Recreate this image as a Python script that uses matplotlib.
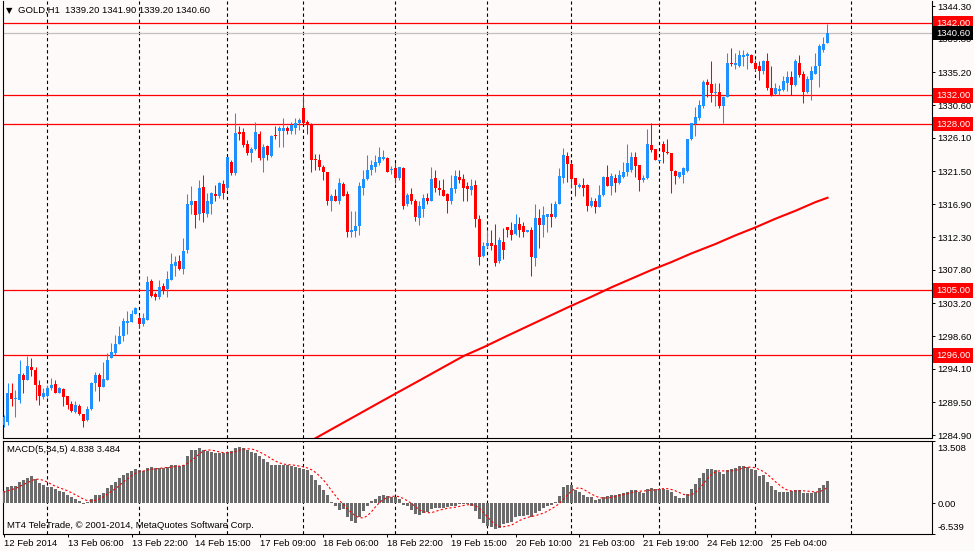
import matplotlib
matplotlib.use("Agg")
import matplotlib.pyplot as plt
import matplotlib.transforms as mtransforms
import numpy as np

plt.rcParams['font.family'] = ['Liberation Sans', 'DejaVu Sans']

# ---- GOLD H1 candles, 12 Feb 2014 .. 25 Feb 2014 ----
opens = [
    1286.3, 1286.8, 1290.7, 1289.9, 1289.8, 1293.3, 1292.5, 1294.3, 1293.9, 1291.9,
    1290.2, 1290.3, 1291.4, 1292.0, 1290.8, 1291.3, 1290.3, 1289.3, 1288.2, 1289.0,
    1287.9, 1287.0, 1288.6, 1292.1, 1293.3, 1291.6, 1292.5, 1295.6, 1296.3, 1297.6,
    1298.6, 1300.5, 1300.6, 1301.7, 1301.2, 1300.3, 1300.9, 1306.3, 1304.5, 1304.0,
    1305.6, 1305.2, 1306.4, 1308.4, 1309.0, 1307.9, 1310.5, 1316.8, 1317.3, 1315.6,
    1319.3, 1315.6, 1317.0, 1318.3, 1318.0, 1319.7, 1319.1, 1322.7, 1321.2, 1326.9,
    1326.9, 1325.2, 1324.0, 1324.6, 1326.7, 1323.3, 1325.0, 1323.6, 1326.5, 1327.0,
    1327.0, 1327.5, 1327.1, 1327.5, 1328.1, 1330.2, 1328.3, 1328.0, 1323.2, 1323.0,
    1322.1, 1321.3, 1317.3, 1318.0, 1317.3, 1319.7, 1318.3, 1313.0, 1313.2, 1313.9,
    1319.2, 1320.4, 1321.6, 1322.1, 1322.6, 1323.2, 1323.3, 1321.7, 1321.9, 1320.5,
    1321.9, 1316.9, 1318.3, 1317.4, 1315.0, 1316.3, 1317.7, 1317.3, 1320.5, 1319.1,
    1318.9, 1318.3, 1317.3, 1319.0, 1320.7, 1320.4, 1319.4, 1318.9, 1319.6, 1314.8,
    1309.7, 1311.1, 1311.5, 1311.3, 1309.0, 1311.7, 1313.7, 1313.3, 1312.8, 1314.2,
    1313.9, 1313.1, 1313.3, 1309.4, 1315.0, 1314.0, 1315.2, 1315.6, 1315.2, 1316.9,
    1320.6, 1323.6, 1322.5, 1320.5, 1319.3, 1319.6, 1319.6, 1316.6, 1317.4, 1316.5,
    1318.2, 1320.7, 1319.4, 1320.6, 1319.8, 1320.7, 1321.3, 1321.6, 1323.4, 1322.3,
    1320.2, 1320.5, 1325.1, 1324.5, 1322.9, 1325.3, 1324.1, 1324.0, 1321.5, 1320.7,
    1320.9, 1321.5, 1325.9, 1328.0, 1328.8, 1330.5, 1333.9, 1333.6, 1332.3, 1332.5,
    1330.5, 1331.8, 1336.5, 1336.2, 1336.1, 1337.3, 1337.4, 1337.6, 1336.5, 1336.0,
    1335.3, 1336.7, 1333.0, 1332.2, 1332.6, 1332.7, 1333.7, 1334.5, 1333.4, 1336.5,
    1334.9, 1332.4, 1334.1, 1335.0, 1336.0, 1338.3, 1339.2]
highs = [
    1287.7, 1292.1, 1292.1, 1291.2, 1295.3, 1293.6, 1295.9, 1295.6, 1294.4, 1292.6,
    1291.4, 1291.9, 1292.8, 1292.6, 1291.6, 1291.4, 1290.3, 1289.6, 1289.6, 1289.3,
    1287.9, 1288.9, 1292.3, 1293.7, 1293.6, 1295.1, 1296.3, 1297.7, 1298.8, 1300.0,
    1301.1, 1302.1, 1302.3, 1302.7, 1301.6, 1301.8, 1307.0, 1306.5, 1304.8, 1306.4,
    1306.0, 1307.6, 1310.2, 1309.7, 1309.9, 1312.2, 1318.3, 1319.4, 1317.3, 1320.3,
    1321.0, 1318.4, 1318.6, 1319.6, 1320.0, 1320.3, 1323.5, 1323.0, 1329.5, 1327.7,
    1327.4, 1325.8, 1324.9, 1328.3, 1327.0, 1325.2, 1325.1, 1326.5, 1327.7, 1327.7,
    1328.8, 1327.7, 1328.3, 1328.8, 1328.8, 1331.9, 1328.6, 1328.1, 1323.9, 1323.9,
    1322.3, 1321.4, 1318.3, 1319.0, 1320.6, 1320.0, 1318.8, 1316.0, 1315.9, 1320.0,
    1321.7, 1323.7, 1323.0, 1323.7, 1324.9, 1324.4, 1323.5, 1322.2, 1322.6, 1322.1,
    1322.1, 1318.4, 1319.1, 1317.6, 1317.3, 1318.3, 1318.5, 1322.1, 1321.6, 1320.3,
    1320.4, 1318.4, 1321.0, 1321.7, 1321.6, 1321.1, 1320.0, 1320.4, 1320.3, 1315.4,
    1311.7, 1313.3, 1313.3, 1314.2, 1312.4, 1313.6, 1313.8, 1314.5, 1315.6, 1315.2,
    1314.5, 1313.4, 1313.8, 1316.9, 1316.2, 1316.6, 1315.6, 1317.1, 1317.3, 1321.9,
    1324.7, 1324.2, 1322.8, 1320.6, 1319.8, 1320.5, 1319.7, 1317.9, 1317.7, 1319.6,
    1320.8, 1322.3, 1321.2, 1321.1, 1321.6, 1322.8, 1325.3, 1324.2, 1324.2, 1322.3,
    1320.9, 1327.3, 1328.1, 1324.6, 1323.1, 1325.6, 1325.9, 1324.0, 1321.6, 1321.4,
    1322.1, 1326.0, 1328.2, 1330.4, 1331.3, 1334.1, 1334.3, 1336.8, 1333.7, 1333.7,
    1331.9, 1337.8, 1338.6, 1337.9, 1338.3, 1338.2, 1338.0, 1337.7, 1336.9, 1336.8,
    1336.9, 1337.8, 1336.0, 1333.7, 1333.4, 1334.6, 1335.3, 1335.3, 1337.0, 1337.6,
    1335.3, 1334.6, 1336.0, 1337.8, 1339.1, 1340.1, 1341.9]
lows = [
    1286.1, 1286.3, 1288.9, 1287.4, 1289.4, 1290.7, 1292.5, 1293.1, 1289.8, 1289.1,
    1290.0, 1290.2, 1291.2, 1290.7, 1290.7, 1288.9, 1288.6, 1288.2, 1288.0, 1287.7,
    1286.0, 1286.9, 1288.4, 1291.1, 1289.7, 1291.6, 1292.5, 1295.6, 1296.0, 1297.6,
    1297.9, 1299.0, 1300.6, 1301.7, 1299.7, 1300.0, 1300.9, 1304.0, 1303.6, 1303.8,
    1304.5, 1304.1, 1306.4, 1306.9, 1307.8, 1307.3, 1310.1, 1315.6, 1313.6, 1314.7,
    1314.5, 1315.1, 1315.6, 1317.3, 1317.7, 1317.6, 1318.9, 1321.0, 1321.0, 1325.8,
    1324.9, 1323.7, 1322.8, 1324.4, 1323.0, 1321.4, 1323.0, 1323.5, 1326.0, 1324.9,
    1324.9, 1326.7, 1326.7, 1326.7, 1327.2, 1328.0, 1326.7, 1321.4, 1321.6, 1321.6,
    1320.3, 1316.8, 1315.9, 1317.4, 1316.9, 1318.0, 1312.3, 1312.4, 1312.4, 1312.6,
    1318.2, 1320.3, 1321.0, 1321.4, 1322.3, 1323.1, 1321.3, 1321.1, 1319.8, 1320.3,
    1316.3, 1316.6, 1316.9, 1314.6, 1314.0, 1315.2, 1317.0, 1317.3, 1318.6, 1318.2,
    1318.0, 1315.7, 1317.0, 1318.4, 1319.9, 1317.3, 1317.3, 1318.2, 1313.7, 1308.5,
    1309.6, 1310.8, 1310.6, 1308.3, 1308.7, 1309.3, 1312.3, 1312.0, 1312.6, 1312.3,
    1312.4, 1313.0, 1307.0, 1308.4, 1310.9, 1312.3, 1313.0, 1313.7, 1315.0, 1316.9,
    1319.9, 1320.0, 1319.2, 1318.0, 1319.2, 1318.0, 1315.9, 1316.5, 1315.7, 1316.5,
    1318.0, 1319.4, 1318.2, 1318.6, 1319.7, 1320.6, 1320.8, 1321.4, 1320.7, 1318.8,
    1320.0, 1320.4, 1324.2, 1323.0, 1322.9, 1322.6, 1323.9, 1318.4, 1319.7, 1320.5,
    1319.8, 1321.4, 1325.8, 1326.4, 1328.6, 1330.3, 1331.8, 1331.0, 1330.5, 1330.3,
    1328.1, 1331.7, 1336.1, 1335.6, 1335.9, 1336.0, 1335.7, 1336.4, 1335.4, 1334.1,
    1335.0, 1332.7, 1331.9, 1332.0, 1332.0, 1332.6, 1332.6, 1332.0, 1333.3, 1334.5,
    1330.9, 1332.3, 1331.4, 1334.9, 1333.2, 1338.0, 1339.2]
closes = [
    1287.4, 1290.7, 1289.9, 1290.0, 1293.4, 1292.5, 1294.5, 1293.9, 1291.9, 1290.3,
    1290.7, 1291.4, 1291.9, 1290.7, 1291.4, 1290.2, 1289.1, 1288.3, 1289.1, 1287.8,
    1286.9, 1288.6, 1292.2, 1293.3, 1291.6, 1292.7, 1295.4, 1296.4, 1297.5, 1298.7,
    1300.7, 1300.8, 1301.7, 1302.5, 1300.3, 1301.2, 1306.1, 1304.2, 1304.0, 1305.4,
    1304.9, 1306.5, 1308.6, 1308.9, 1307.9, 1310.4, 1317.0, 1317.3, 1315.4, 1319.2,
    1315.7, 1317.3, 1318.4, 1318.1, 1319.8, 1318.5, 1323.5, 1321.2, 1326.8, 1326.7,
    1325.1, 1324.0, 1324.6, 1326.9, 1323.3, 1324.9, 1323.7, 1326.4, 1326.3, 1327.4,
    1327.5, 1327.0, 1327.9, 1328.2, 1328.6, 1328.2, 1328.0, 1323.1, 1323.0, 1322.1,
    1321.3, 1317.3, 1318.0, 1317.4, 1319.9, 1318.0, 1313.0, 1313.4, 1313.9, 1319.4,
    1320.4, 1321.6, 1322.3, 1322.7, 1323.4, 1323.5, 1321.4, 1321.8, 1320.6, 1322.0,
    1316.7, 1318.2, 1317.4, 1315.1, 1316.6, 1317.7, 1317.3, 1320.4, 1319.1, 1318.9,
    1318.0, 1317.3, 1319.2, 1320.8, 1320.2, 1319.2, 1319.0, 1319.4, 1314.8, 1309.6,
    1311.1, 1311.5, 1311.1, 1308.8, 1311.9, 1310.5, 1313.3, 1312.6, 1314.2, 1313.4,
    1313.0, 1313.3, 1309.6, 1315.0, 1314.0, 1315.4, 1315.6, 1315.1, 1316.9, 1320.8,
    1323.7, 1322.5, 1320.4, 1319.6, 1319.6, 1319.2, 1316.6, 1317.4, 1316.5, 1318.2,
    1320.7, 1319.4, 1320.8, 1319.9, 1321.0, 1321.3, 1322.6, 1323.4, 1322.2, 1320.2,
    1320.5, 1325.2, 1324.4, 1323.1, 1323.0, 1324.2, 1324.0, 1321.5, 1320.8, 1321.3,
    1321.9, 1325.9, 1328.1, 1329.0, 1330.6, 1333.9, 1333.4, 1332.3, 1332.5, 1330.5,
    1331.8, 1336.5, 1336.3, 1336.5, 1337.6, 1337.6, 1337.7, 1336.5, 1335.7, 1335.3,
    1336.7, 1333.0, 1332.0, 1333.0, 1332.8, 1334.0, 1334.5, 1333.4, 1336.7, 1334.8,
    1332.5, 1334.2, 1335.3, 1336.0, 1338.8, 1339.1, 1340.6]

# red moving average (only its visible part), bar index -> price
ma_bars = [78, 83, 89, 94, 99, 104, 110, 115, 120, 126, 131, 136, 141,
           147, 152, 157, 162, 167, 172, 178, 183, 188, 193, 198, 203, 206]
ma_vals = [1284.5, 1286.05, 1287.9, 1289.45, 1290.98, 1292.5, 1294.35, 1295.88,
           1297.1, 1298.7, 1300.0, 1301.3, 1302.6, 1304.1, 1305.4, 1306.6,
           1307.8, 1308.9, 1310.1, 1311.4, 1312.6, 1313.7, 1314.9, 1316.0,
           1317.2, 1317.8]

# MACD(5,34,5) histogram and signal
macd_hist = [
    2.77, 3.50, 3.65, 3.72, 4.60, 4.96, 5.47, 5.84, 5.33, 4.38,
    3.87, 3.50, 3.50, 3.14, 2.77, 2.41, 1.82, 1.31, 0.95, 0.58,
    -0.15, 0.22, 0.95, 1.82, 1.82, 2.26, 3.28, 3.87, 4.60, 5.47,
    6.20, 6.57, 7.01, 7.37, 7.15, 6.93, 7.74, 7.81, 7.66, 7.66,
    7.74, 7.88, 8.25, 8.39, 8.10, 8.39, 10.29, 11.53, 11.53, 12.04,
    11.53, 11.31, 11.17, 10.80, 10.80, 10.80, 11.17, 11.31, 12.04, 12.26,
    11.90, 11.53, 11.17, 10.80, 10.29, 9.71, 8.98, 8.39, 8.39, 8.39,
    8.39, 8.39, 8.10, 7.88, 7.66, 7.52, 7.15, 6.20, 4.96, 3.87,
    2.99, 1.82, 0.22, -0.66, -1.39, -1.24, -3.07, -3.80, -4.31, -3.07,
    -1.61, -0.51, 0.44, 0.95, 1.53, 1.82, 1.68, 1.46, 1.31, 0.95,
    -0.36, -0.66, -1.39, -2.34, -2.55, -2.12, -1.82, -1.24, -1.09, -1.09,
    -1.09, -0.88, -0.66, -0.51, -0.15, -0.15, -0.15, -0.51, -1.61, -3.43,
    -4.31, -4.89, -5.04, -5.62, -5.26, -4.53, -4.16, -4.01, -3.07, -2.85,
    -2.70, -2.55, -3.07, -2.12, -1.61, -1.09, -0.66, -0.36, 0.36, 1.68,
    3.50, 4.01, 3.87, 2.99, 2.55, 1.82, 1.31, 1.31, 0.80, 0.95,
    1.31, 1.53, 1.82, 1.82, 2.04, 2.26, 2.41, 2.99, 2.99, 2.55,
    2.26, 3.14, 3.43, 3.14, 3.14, 3.14, 2.99, 2.55, 1.68, 1.24,
    1.24, 2.04, 3.14, 4.23, 5.47, 6.64, 7.37, 7.37, 7.15, 6.79,
    6.42, 7.30, 7.52, 7.74, 8.03, 8.03, 7.81, 7.52, 7.15, 5.91,
    6.06, 4.60, 3.72, 2.99, 2.55, 2.55, 2.55, 2.77, 2.99, 2.99,
    2.26, 2.26, 2.26, 2.55, 3.28, 4.01, 4.84]
macd_signal = [
    2.40, 2.70, 3.00, 3.20, 3.65, 4.09, 4.48, 4.92, 5.24, 5.20,
    4.98, 4.58, 4.12, 3.68, 3.36, 3.06, 2.73, 2.29, 1.85, 1.41,
    0.90, 0.58, 0.51, 0.68, 0.93, 1.41, 2.03, 2.61, 3.17, 3.90,
    4.68, 5.34, 5.97, 6.52, 6.86, 7.01, 7.24, 7.40, 7.46, 7.56,
    7.72, 7.75, 7.84, 7.98, 8.07, 8.20, 8.68, 9.34, 9.97, 10.76,
    11.38, 11.59, 11.52, 11.37, 11.12, 10.98, 10.95, 10.98, 11.22, 11.52,
    11.74, 11.81, 11.78, 11.53, 11.14, 10.70, 10.19, 9.63, 9.15, 8.77,
    8.51, 8.39, 8.33, 8.23, 8.08, 7.91, 7.66, 7.28, 6.70, 5.94,
    5.03, 3.97, 2.77, 1.65, 0.60, -0.25, -1.23, -2.03, -2.76, -3.10,
    -3.17, -2.66, -1.81, -0.76, 0.16, 0.85, 1.28, 1.49, 1.56, 1.44,
    1.01, 0.54, -0.03, -0.76, -1.46, -1.81, -2.04, -2.01, -1.76, -1.47,
    -1.27, -1.08, -0.96, -0.85, -0.66, -0.47, -0.32, -0.29, -0.51, -1.17,
    -2.00, -2.95, -3.86, -4.66, -5.02, -5.07, -4.92, -4.72, -4.21, -3.72,
    -3.36, -3.04, -2.85, -2.66, -2.41, -2.09, -1.71, -1.17, -0.67, -0.01,
    0.90, 1.84, 2.68, 3.21, 3.38, 3.05, 2.51, 2.00, 1.56, 1.24,
    1.14, 1.18, 1.28, 1.49, 1.70, 1.89, 2.07, 2.30, 2.54, 2.64,
    2.64, 2.79, 2.87, 2.90, 3.02, 3.20, 3.17, 2.99, 2.70, 2.32,
    1.94, 1.75, 1.87, 2.38, 3.22, 4.30, 5.37, 6.22, 6.80, 7.06,
    7.02, 7.01, 7.04, 7.15, 7.40, 7.72, 7.83, 7.83, 7.71, 7.28,
    6.89, 6.25, 5.49, 4.66, 3.98, 3.28, 2.87, 2.68, 2.68, 2.77,
    2.71, 2.65, 2.55, 2.46, 2.52, 2.87, 3.48]

levels = [1342.00, 1332.00, 1328.00, 1305.00, 1296.00]
bid = 1340.60
price_ticks = [1344.30, 1339.80, 1335.20, 1330.60, 1326.10, 1321.50, 1316.90,
               1312.30, 1307.80, 1303.20, 1298.60, 1294.10, 1289.50, 1284.90]
macd_ticks = [13.508, 0.0, -6.539]
macd_tick_labels = ['13.508', '0.00', '-6.539']
grid_bars = [11, 34, 56, 75, 98, 121, 142, 164, 188, 212]
time_ticks = [0, 16, 32, 48, 64, 80, 96, 112, 128, 144, 160, 176, 192]
time_labels = ['12 Feb 2014', '13 Feb 06:00', '13 Feb 22:00', '14 Feb 15:00',
               '17 Feb 09:00', '18 Feb 06:00', '18 Feb 22:00', '19 Feb 15:00',
               '20 Feb 10:00', '21 Feb 03:00', '21 Feb 19:00', '24 Feb 12:00',
               '25 Feb 04:00']

BG = '#FFFAFA'
BULL = '#1E90FF'
BEAR = '#FF0000'
FS = 6.8
W, H = 974, 551

fig = plt.figure(figsize=(W / 100, H / 100), dpi=100, facecolor=BG)


def px_axes(left, top, right, bottom):
    a = fig.add_axes([left / W, 1 - bottom / H, (right - left) / W, (bottom - top) / H])
    a.set_facecolor(BG)
    return a


ax = px_axes(2.5, 0.5, 931.5, 437.5)
ax2 = px_axes(2.5, 441, 931.5, 533.5)

o = np.array(opens)
h = np.array(highs)
l = np.array(lows)
c = np.array(closes)
x = np.arange(len(o))
cols = np.where(c >= o, BULL, BEAR)

# candles
ax.vlines(x, l, h, colors=cols, linewidth=0.75, zorder=3)
ax.bar(x, np.maximum(np.abs(c - o), 0.14), bottom=np.minimum(o, c), width=0.74,
       color=cols, linewidth=0, zorder=4)

ax.plot(ma_bars, ma_vals, color=BEAR, lw=1.5, zorder=2)

for lv in levels:
    ax.axhline(lv, color=BEAR, lw=0.9, zorder=2)
ax.axhline(bid, color='#C0C0C0', lw=0.9, zorder=2)

for g in grid_bars:
    for a in (ax, ax2):
        a.axvline(g, color='black', lw=0.8, ls=(0, (3, 2.5)), zorder=1)

ax.set_xlim(-0.25, 232)
ax.set_ylim(1284.60, 1345.12)
ax.yaxis.tick_right()
ax.set_yticks(price_ticks)
ax.set_yticklabels([f'{v:.2f}' for v in price_ticks])
ax.tick_params(axis='y', direction='out', length=2.5, width=0.7, pad=2,
               labelsize=FS, colors='black')
ax.tick_params(axis='x', bottom=False, labelbottom=False)
ax.spines['top'].set_visible(False)
for s in ('left', 'right', 'bottom'):
    ax.spines[s].set_linewidth(0.8)

# price boxes on the right scale
trans = mtransforms.blended_transform_factory(ax.transAxes, ax.transData)
for lv in levels:
    ax.text(1 + 4.5 / 929, lv, f'{lv:.2f}', transform=trans, ha='left', va='center',
            fontsize=FS, color='white', clip_on=False, zorder=6,
            bbox=dict(boxstyle='square,pad=0.3', fc=BEAR, ec='none'))
ax.text(1 + 4.5 / 929, bid, f'{bid:.2f}', transform=trans, ha='left', va='center',
        fontsize=FS, color='white', clip_on=False, zorder=7,
        bbox=dict(boxstyle='square,pad=0.3', fc='black', ec='none'))

# MACD window
ax2.bar(x, macd_hist, width=0.72, color='#6B6B6B', linewidth=0, zorder=3)
ax2.plot(x, macd_signal, color=BEAR, lw=0.8, ls=(0, (2, 2)), zorder=4)
ax2.set_xlim(-0.25, 232)
ax2.set_ylim(-6.539, 13.508)
ax2.yaxis.tick_right()
ax2.set_yticks(macd_ticks)
ax2.set_yticklabels(macd_tick_labels)
ax2.tick_params(axis='y', direction='out', length=2.5, width=0.7, pad=2,
                labelsize=FS, colors='black')
ax2.set_xticks(time_ticks)
ax2.set_xticklabels(time_labels)
ax2.tick_params(axis='x', direction='out', length=2.5, width=0.7, pad=1.5,
                labelsize=FS, colors='black')
for lab in ax2.get_xticklabels():
    lab.set_ha('left')
for s in ax2.spines.values():
    s.set_linewidth(0.8)

# keep the extreme MACD scale labels inside the window, as MT4 does
for lab in ax2.get_yticklabels():
    if lab.get_text() == '13.508':
        lab.set_transform(lab.get_transform() +
                          mtransforms.ScaledTranslation(0, -0.065, fig.dpi_scale_trans))
    elif lab.get_text() == '-6.539':
        lab.set_transform(lab.get_transform() +
                          mtransforms.ScaledTranslation(0, 0.07, fig.dpi_scale_trans))

fig.text(6 / W, 1 - 10.5 / H, '\u25bc', fontsize=6, va='center', ha='left',
         family='DejaVu Sans')
fig.text(18 / W, 1 - 10.5 / H, 'GOLD,H1  1339.20 1341.90 1339.20 1340.60',
         fontsize=FS, va='center', ha='left')
fig.text(7 / W, 1 - 450 / H, 'MACD(5,34,5) 4.838 3.484', fontsize=FS,
         va='center', ha='left')
fig.text(7 / W, 1 - 525 / H, 'MT4 TeleTrade, \u00a9 2001-2014, MetaQuotes Software Corp.',
         fontsize=FS, va='center', ha='left')

fig.savefig('out.png', dpi=100, facecolor=BG)
